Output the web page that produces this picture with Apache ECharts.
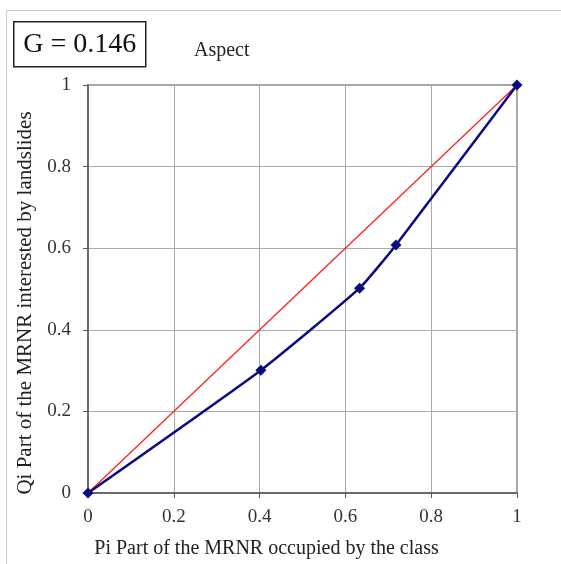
<!DOCTYPE html>
<html>
<head>
<meta charset="utf-8">
<script src="https://cdn.jsdelivr.net/npm/echarts@6/dist/echarts.min.js"></script>
<style>
  html, body { margin: 0; padding: 0; background: #fff; }
  #frame { position: absolute; left: 6px; top: 10px; width: 600px; height: 600px; border: 1px solid #c8c8c8; }
  #main { position: absolute; left: 0; top: 0; width: 561px; height: 564px; }
</style>
</head>
<body>
<div id="frame"></div>
<div id="main"></div>
<script>
// Pi / Qi values of the aspect classes (cumulative)
var piValues = [0, 0.403, 0.633, 0.718, 1]
var qiValues = [0, 0.301, 0.502, 0.608, 1]
var refLine = [[0, 0], [1, 1]]
var ticks = [0, 0.2, 0.4, 0.6, 0.8, 1]
var giniText = 'G = 0.146'

var curve = piValues.map(function (p, i) { return [p, qiValues[i]] })

var font = 'Liberation Serif'
var myChart = echarts.init(document.getElementById('main'))

var option = {
  animation: false,
  textStyle: { fontFamily: font },
  title: {
    text: 'Aspect',
    left: 189,
    top: 36,
    textStyle: { fontFamily: font, fontSize: 20, fontWeight: 'normal', color: '#222' }
  },
  graphic: [{
    type: 'group',
    left: 13,
    top: 21,
    children: [
      { type: 'rect', shape: { x: 0, y: 0, width: 132, height: 45 },
        style: { fill: '#fff', stroke: '#222', lineWidth: 1.5 } },
      { type: 'text', x: 66, y: 23,
        style: { text: giniText, font: '28px "Liberation Serif"', fill: '#111',
                 align: 'center', verticalAlign: 'middle' } }
    ]
  }],
  grid: {
    left: 88, right: 44, top: 85, bottom: 71,
    show: true, borderColor: '#888', borderWidth: 1.5
  },
  xAxis: {
    type: 'value', min: 0, max: 1, interval: 0.2,
    name: 'Pi Part of the MRNR occupied by the class',
    nameLocation: 'middle', nameGap: 46,
    nameTextStyle: { fontFamily: font, fontSize: 20, color: '#222', padding: [0, 72, 0, 0] },
    axisLine: { lineStyle: { color: '#555', width: 1.5 } },
    axisTick: { show: true, inside: false, length: 5, lineStyle: { color: '#555' } },
    axisLabel: { fontFamily: font, fontSize: 19, color: '#333', margin: 15,
                 formatter: function (v) { return String(+v.toFixed(1)) } },
    splitLine: { show: true, lineStyle: { color: '#aaa', width: 1 } }
  },
  yAxis: {
    type: 'value', min: 0, max: 1, interval: 0.2,
    name: 'Qi Part of the MRNR interested by landslides',
    nameLocation: 'middle', nameGap: 51,
    nameTextStyle: { fontFamily: font, fontSize: 21, color: '#222', padding: [0, 28, 0, 0] },
    axisLine: { show: true, lineStyle: { color: '#555', width: 1.5 } },
    axisTick: { show: true, inside: false, length: 5, lineStyle: { color: '#555' } },
    axisLabel: { fontFamily: font, fontSize: 19, color: '#333', margin: 17,
                 formatter: function (v) { return String(+v.toFixed(1)) } },
    splitLine: { show: true, lineStyle: { color: '#aaa', width: 1 } }
  },
  series: [
    {
      name: 'reference',
      type: 'line',
      data: refLine,
      symbol: 'none',
      lineStyle: { color: '#ff2020', width: 1.3 }
    },
    {
      name: 'Aspect',
      type: 'line',
      data: curve,
      smooth: 0.15,
      symbol: 'diamond',
      symbolSize: 11,
      itemStyle: { color: '#0b0b80' },
      lineStyle: { color: '#0b0b80', width: 2.5 }
    }
  ]
}

myChart.setOption(option)
</script>
</body>
</html>
